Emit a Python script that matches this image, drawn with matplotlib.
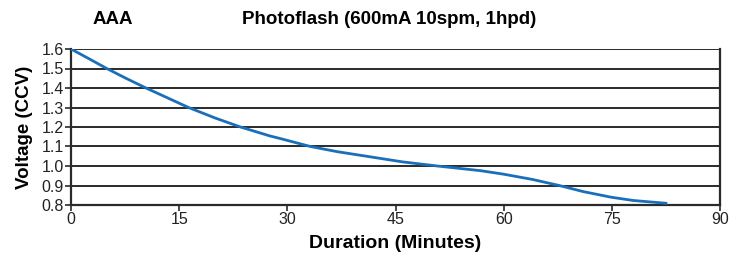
import matplotlib
matplotlib.use("Agg")
import matplotlib.pyplot as plt

# discharge curve (minutes vs closed-circuit voltage)
minutes = [0, 2.5, 4.96, 7.5, 10.4, 13, 16.3, 20, 23.5, 27.6, 29, 33.2, 37, 41.5, 46,
           50.8, 56.8, 60, 64, 67.7, 71, 74.9, 78, 82.5]
voltage = [1.6, 1.55, 1.5, 1.452, 1.4, 1.356, 1.3, 1.246, 1.2, 1.154, 1.141, 1.1, 1.073, 1.047, 1.021,
           1.0, 0.976, 0.958, 0.931, 0.9, 0.869, 0.84, 0.823, 0.809]

x_ticks = [0, 15, 30, 45, 60, 75, 90]
y_ticks = [0.8, 0.9, 1.0, 1.1, 1.2, 1.3, 1.4, 1.5, 1.6]

plt.rcParams['font.family'] = ['Liberation Sans', 'DejaVu Sans']

fig = plt.figure(figsize=(7.43, 2.57), dpi=100)
ax = fig.add_axes([71 / 743, 1 - 205 / 257, 649 / 743, 156 / 257])

for v in y_ticks:
    ax.axhline(v, color='#2a2a2a', lw=1.4, zorder=1)

ax.plot(minutes, voltage, color='#1a6fba', lw=2.0, zorder=3, solid_joinstyle='round')

ax.set_xlim(0, 90)
ax.set_ylim(0.8, 1.6)
ax.set_xticks(x_ticks)
ax.set_yticks(y_ticks)
ax.set_yticklabels([f"{v:.1f}" for v in y_ticks])
ax.tick_params(direction='out', length=4, width=1.2, labelsize=11.5, pad=1, color='#2a2a2a',
               labelcolor='#222222')

for side in ['left', 'bottom', 'right']:
    ax.spines[side].set_linewidth(1.6)
    ax.spines[side].set_color('#2a2a2a')
ax.spines['top'].set_visible(False)

ax.set_xlabel('Duration (Minutes)', fontsize=14, fontweight='bold', labelpad=6)
ax.set_ylabel('Voltage (CCV)', fontsize=13.5, fontweight='bold', labelpad=6)

fig.text(113 / 743, 1 - 20 / 257, 'AAA', fontsize=13.5, fontweight='bold', ha='center', va='center')
fig.text(389 / 743, 1 - 20 / 257, 'Photoflash (600mA 10spm, 1hpd)', fontsize=13.5,
         fontweight='bold', ha='center', va='center')

fig.savefig('out.png', dpi=100)
